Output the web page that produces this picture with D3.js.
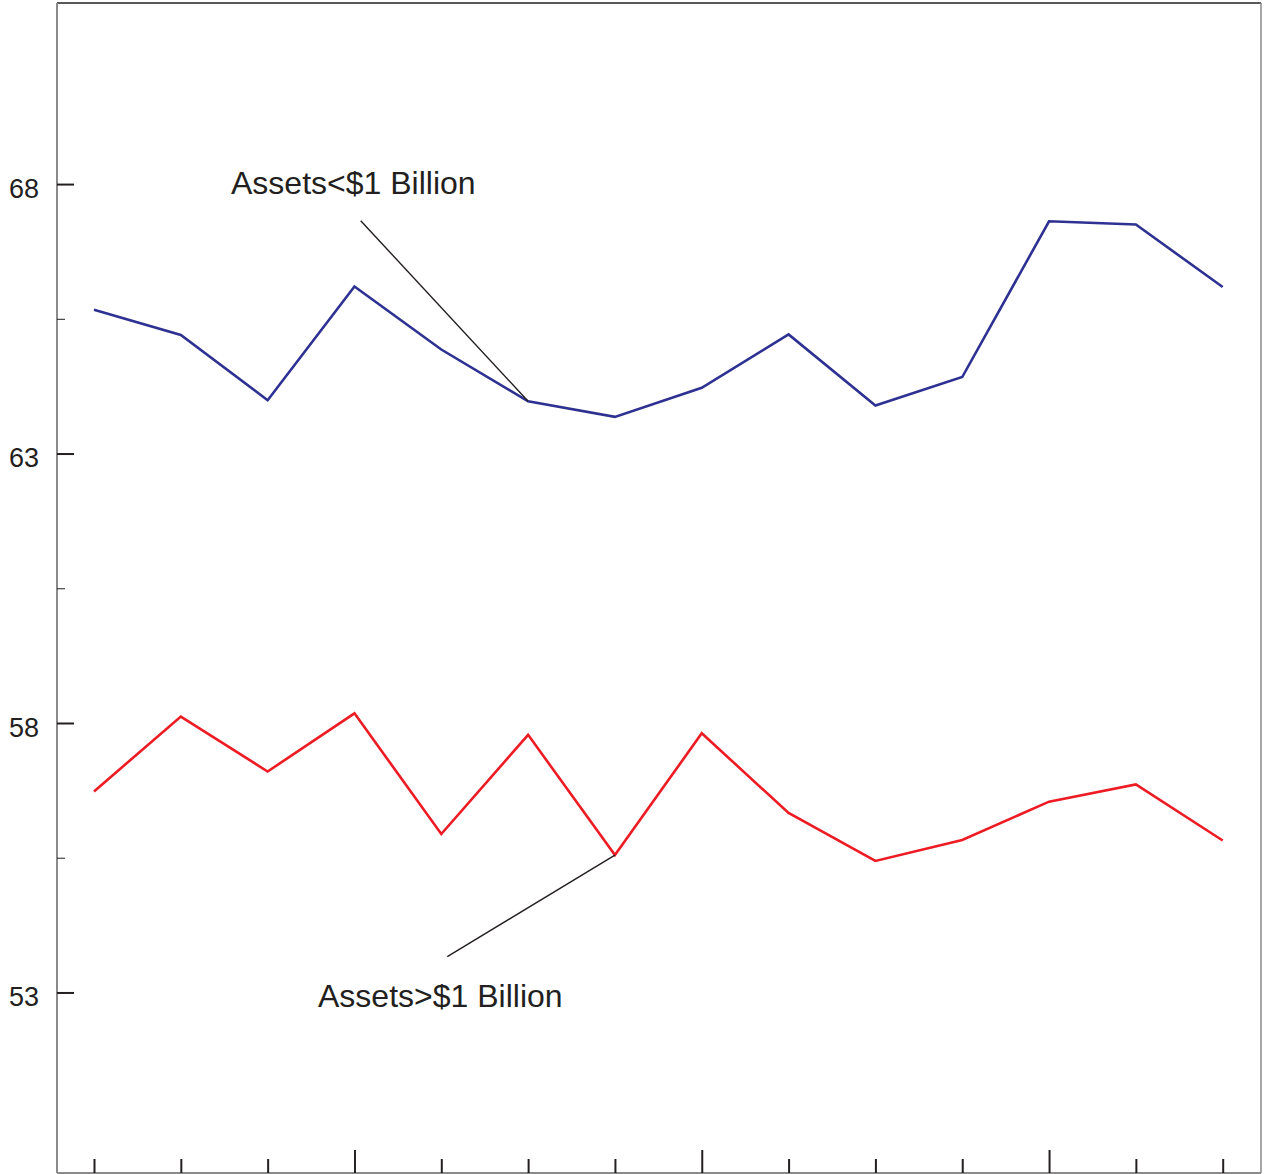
<!DOCTYPE html>
<html>
<head>
<meta charset="utf-8">
<script src="https://cdn.jsdelivr.net/npm/d3@7"></script>
<style>
  html, body { margin: 0; padding: 0; background: #fff; }
  svg { display: block; font-family: "Liberation Sans", Arial, Helvetica, sans-serif; }
</style>
</head>
<body>
<svg id="chart" width="1267" height="1174"></svg>
<script>
// ---- data ----
const periods = d3.range(14);               // 14 consecutive periods (unlabelled)
const smallAssets = [65.67, 65.20, 63.99, 66.10, 64.93, 63.97, 63.68, 64.22, 65.21, 63.89, 64.42, 67.31, 67.25, 66.09];
const largeAssets = [56.73, 58.12, 57.10, 58.18, 55.94, 57.78, 55.55, 57.81, 56.33, 55.44, 55.83, 56.54, 56.86, 55.82];
const yTickLabels = [53, 58, 63, 68];
const yMinorTicks = [55.5, 60.5, 65.5];
const seriesNames = ["Assets<$1 Billion", "Assets>$1 Billion"];

// ---- layout ----
const W = 1267, H = 1174;
const frame = { left: 57, right: 1261, top: 3, bottom: 1173 };

const svg = d3.select("#chart");

const x = d3.scaleLinear().domain([0, 13]).range([94, 1222.7]);
const y = d3.scaleLinear().domain([49.65, 71.36]).range([frame.bottom, frame.top]);

// frame
svg.append("line").attr("x1", frame.left).attr("x2", frame.right).attr("y1", frame.top).attr("y2", frame.top)
  .attr("stroke", "#231f20").attr("stroke-width", 1.5);
svg.append("line").attr("x1", frame.left).attr("x2", frame.left).attr("y1", frame.top).attr("y2", frame.bottom)
  .attr("stroke", "#8a8a8a").attr("stroke-width", 2);
svg.append("line").attr("x1", frame.right).attr("x2", frame.right).attr("y1", frame.top).attr("y2", frame.bottom)
  .attr("stroke", "#8a8a8a").attr("stroke-width", 1.5);
svg.append("line").attr("x1", frame.left).attr("x2", frame.right).attr("y1", frame.bottom).attr("y2", frame.bottom)
  .attr("stroke", "#8a8a8a").attr("stroke-width", 2);

// y axis: major ticks (inward) with labels
const yAxis = d3.axisRight(y).tickValues(yTickLabels).tickSize(17).tickFormat("");
const gy = svg.append("g").attr("transform", `translate(${frame.left},0)`).call(yAxis);
gy.select(".domain").remove();
gy.selectAll(".tick line").attr("stroke", "#231f20").attr("stroke-width", 2);

svg.append("g").selectAll("text").data(yTickLabels).join("text")
  .attr("x", 39).attr("y", d => y(d) + 13.5)
  .attr("text-anchor", "end")
  .attr("font-size", 27).attr("fill", "#231f20")
  .text(d => d);

// y minor ticks
const yMinor = d3.axisRight(y).tickValues(yMinorTicks).tickSize(8).tickFormat("");
const gym = svg.append("g").attr("transform", `translate(${frame.left},0)`).call(yMinor);
gym.select(".domain").remove();
gym.selectAll(".tick line").attr("stroke", "#231f20").attr("stroke-width", 1);

// x ticks (upward from bottom), every 4th longer
const xAxis = d3.axisTop(x).tickValues(periods).tickSize(0).tickFormat("");
const gx = svg.append("g").attr("transform", `translate(0,${frame.bottom})`).call(xAxis);
gx.select(".domain").remove();
gx.selectAll(".tick line")
  .attr("y2", d => (d % 4 === 3 ? -23 : -14))
  .attr("stroke", "#231f20").attr("stroke-width", 2);

// lines
const line = d3.line().x((d, i) => x(periods[i])).y(d => y(d));
svg.append("path").datum(smallAssets).attr("d", line)
  .attr("fill", "none").attr("stroke", "#2e3192").attr("stroke-width", 2.6).attr("stroke-linejoin", "miter");
svg.append("path").datum(largeAssets).attr("d", line)
  .attr("fill", "none").attr("stroke", "#ed1c24").attr("stroke-width", 2.6).attr("stroke-linejoin", "miter");

// annotations
const ann1 = { i: 5, sx: 360.7, sy: 220.7, tx: 231, ty: 194 };
const ann2 = { i: 6, sx: 447.3, sy: 956.7, tx: 318, ty: 1007 };

svg.append("line")
  .attr("x1", ann1.sx).attr("y1", ann1.sy)
  .attr("x2", x(periods[ann1.i])).attr("y2", y(smallAssets[ann1.i]))
  .attr("stroke", "#231f20").attr("stroke-width", 1.4);
svg.append("line")
  .attr("x1", ann2.sx).attr("y1", ann2.sy)
  .attr("x2", x(periods[ann2.i])).attr("y2", y(largeAssets[ann2.i]))
  .attr("stroke", "#231f20").attr("stroke-width", 1.4);

svg.append("text").attr("x", ann1.tx).attr("y", ann1.ty)
  .attr("font-size", 32).attr("fill", "#231f20").text(seriesNames[0]);
svg.append("text").attr("x", ann2.tx).attr("y", ann2.ty)
  .attr("font-size", 32).attr("fill", "#231f20").text(seriesNames[1]);
</script>
</body>
</html>
